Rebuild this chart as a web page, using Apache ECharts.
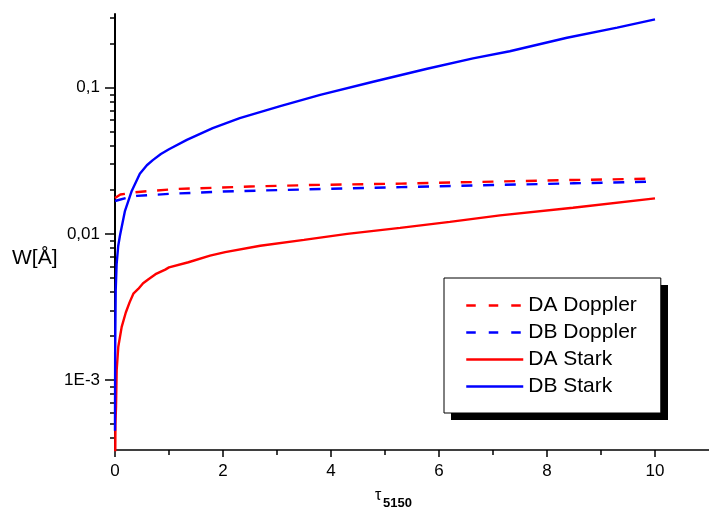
<!DOCTYPE html>
<html>
<head>
<meta charset="utf-8">
<script src="https://cdn.jsdelivr.net/npm/echarts@6/dist/echarts.min.js"></script>
<style>
html,body{margin:0;padding:0;background:#fff;}
#chart{width:709px;height:508px;}
</style>
</head>
<body>
<div id="chart"></div>
<script>
// ---- data ----
const seriesNames = ['DA Doppler', 'DB Doppler', 'DA Stark', 'DB Stark'];

const daDopplerTau = [0, 0.1, 0.33, 0.6, 1.14, 2.5, 3.6, 5.3, 7.0, 8.5, 10];
const daDopplerW   = [0.0176, 0.0186, 0.0192, 0.0196, 0.0203, 0.0211, 0.0216, 0.0221, 0.0228, 0.0234, 0.0239];

const dbDopplerTau = [0, 0.05, 0.2, 0.4, 1.0, 2.0, 3.6, 5.3, 7.0, 8.5, 10];
const dbDopplerW   = [0.0168, 0.0170, 0.0176, 0.0182, 0.0188, 0.0195, 0.0202, 0.0209, 0.0216, 0.0222, 0.0228];

const daStarkTau = [0, 0.008, 0.019, 0.031, 0.061, 0.124, 0.2, 0.27, 0.34, 0.43, 0.52, 0.62, 0.75, 0.93, 1.0, 1.36, 1.76, 2.04, 2.69, 3.5, 4.3, 5.28, 6.2, 7.13, 8.48, 10];
const daStarkW   = [0.00015, 0.0005, 0.00066, 0.00117, 0.00169, 0.00231, 0.0029, 0.0034, 0.0039, 0.0042, 0.0046, 0.0049, 0.0053, 0.0057, 0.0059, 0.0064, 0.0071, 0.0075, 0.0083, 0.0091, 0.0100, 0.0110, 0.0121, 0.0134, 0.0151, 0.0175];

const dbStarkTau = [0, 0.003, 0.006, 0.013, 0.03, 0.06, 0.093, 0.185, 0.31, 0.46, 0.59, 0.7, 0.85, 1.0, 1.33, 1.81, 2.31, 3.06, 3.8, 4.78, 5.78, 6.63, 7.31, 8.37, 9.3, 10];
const dbStarkW   = [0.00045, 0.0015, 0.0022, 0.0041, 0.0062, 0.0083, 0.0098, 0.0144, 0.0197, 0.0258, 0.0295, 0.032, 0.0352, 0.038, 0.044, 0.053, 0.062, 0.075, 0.0895, 0.110, 0.135, 0.159, 0.178, 0.220, 0.258, 0.294];

const xMajorTicks = [0, 2, 4, 6, 8, 10];
const xMinorTicks = [1, 3, 5, 7, 9];
const yMajorTicks = [0.001, 0.01, 0.1];
const yTickLabels = ['1E-3', '0,01', '0,1'];
const yMinorTicks = [0.0004, 0.0005, 0.0006, 0.0007, 0.0008, 0.0009,
                     0.002, 0.003, 0.004, 0.005, 0.006, 0.007, 0.008, 0.009,
                     0.02, 0.03, 0.04, 0.05, 0.06, 0.07, 0.08, 0.09,
                     0.2, 0.3];
const xTitle = 'τ';
const xTitleSub = '5150';
const yTitle = 'W[Å]';

// ---- chart ----
const FONT = '"Liberation Sans", Arial, Helvetica, sans-serif';
const RED = '#ff0000', BLUE = '#0000ff';
const pairs = (xs, ys) => xs.map((x, i) => [x, ys[i]]);

const chart = echarts.init(document.getElementById('chart'), null, {renderer: 'canvas'});

const yMin = 0.000332, yMax = 0.32;

function yLabel(v) {
  const i = yMajorTicks.findIndex(t => Math.abs(Math.log10(t) - Math.log10(v)) < 1e-6);
  return i >= 0 ? yTickLabels[i] : '';
}

const LW = 2.4;
const plotDash = [11, 10.7];
const legendDash = [9.5, 13];

const option = {
  animation: false,
  backgroundColor: '#fff',
  grid: {left: 115, right: 0, top: 14, bottom: 58, containLabel: false},
  xAxis: [
    {
      type: 'value', min: 0, max: 11, position: 'bottom',
      axisLine: {show: true, onZero: false, lineStyle: {color: '#000', width: 1.5}},
      axisTick: {show: true, customValues: xMajorTicks, length: 7, lineStyle: {color: '#000', width: 1.5}},
      axisLabel: {customValues: xMajorTicks, margin: 13, fontSize: 17, color: '#000', fontFamily: FONT},
      splitLine: {show: false}
    },
    {
      type: 'value', min: 0, max: 11, position: 'bottom',
      axisLine: {show: false, onZero: false},
      axisTick: {show: true, customValues: xMinorTicks, length: 5, lineStyle: {color: '#000', width: 1.5}},
      axisLabel: {show: false},
      splitLine: {show: false}
    }
  ],
  yAxis: [
    {
      type: 'log', logBase: 10, min: yMin, max: yMax, position: 'left',
      axisLine: {show: true, onZero: false, lineStyle: {color: '#000', width: 2}},
      axisTick: {show: true, customValues: yMajorTicks, length: 10, lineStyle: {color: '#000', width: 1.5}},
      axisLabel: {customValues: yMajorTicks, formatter: yLabel, margin: 15, fontSize: 17, color: '#000', fontFamily: FONT},
      splitLine: {show: false}
    },
    {
      type: 'log', logBase: 10, min: yMin, max: yMax, position: 'left', offset: 0,
      axisLine: {show: false, onZero: false},
      axisTick: {show: true, customValues: yMinorTicks, length: 5, lineStyle: {color: '#000', width: 1.5}},
      axisLabel: {show: false},
      splitLine: {show: false}
    }
  ],
  legend: {
    orient: 'vertical',
    left: 444, top: 278,
    z: 10,
    padding: [14, 24, 13, 21],
    itemWidth: 57, itemHeight: 14, itemGap: 0, itemTextGap: 6,
    backgroundColor: '#fff',
    borderColor: '#000', borderWidth: 1,
    itemStyle: {opacity: 0},
    lineStyle: {width: 2.5},
    textStyle: {fontSize: 21, lineHeight: 27, color: '#000', fontFamily: FONT},
    data: [
      {name: seriesNames[0], lineStyle: {type: legendDash}},
      {name: seriesNames[1], lineStyle: {type: legendDash}},
      {name: seriesNames[2]},
      {name: seriesNames[3]}
    ]
  },
  graphic: [
    // legend drop shadow
    {type: 'rect', z: 1, shape: {x: 451, y: 285, width: 217, height: 135}, style: {fill: '#000'}},
    {type: 'text', left: 12, top: 248, style: {text: yTitle, fontSize: 21, fill: '#000', fontFamily: FONT}},
    {type: 'text', x: 375, y: 496, style: {text: xTitle, fontSize: 16, fill: '#000', fontFamily: FONT, verticalAlign: 'middle'}},
    {type: 'text', x: 383, y: 503, style: {text: xTitleSub, fontSize: 13, fontWeight: 'bold', fill: '#000', fontFamily: FONT, verticalAlign: 'middle'}}
  ],
  series: [
    {name: seriesNames[0], type: 'line', data: pairs(daDopplerTau, daDopplerW), symbol: 'none', clip: true,
     lineStyle: {color: RED, width: LW, type: plotDash}, itemStyle: {color: RED}},
    {name: seriesNames[1], type: 'line', data: pairs(dbDopplerTau, dbDopplerW), symbol: 'none', clip: true,
     lineStyle: {color: BLUE, width: LW, type: plotDash}, itemStyle: {color: BLUE}},
    {name: seriesNames[2], type: 'line', data: pairs(daStarkTau, daStarkW), symbol: 'none', clip: true,
     lineStyle: {color: RED, width: LW}, itemStyle: {color: RED}},
    {name: seriesNames[3], type: 'line', data: pairs(dbStarkTau, dbStarkW), symbol: 'none', clip: true,
     lineStyle: {color: BLUE, width: LW}, itemStyle: {color: BLUE}}
  ]
};
chart.setOption(option);
</script>
</body>
</html>
